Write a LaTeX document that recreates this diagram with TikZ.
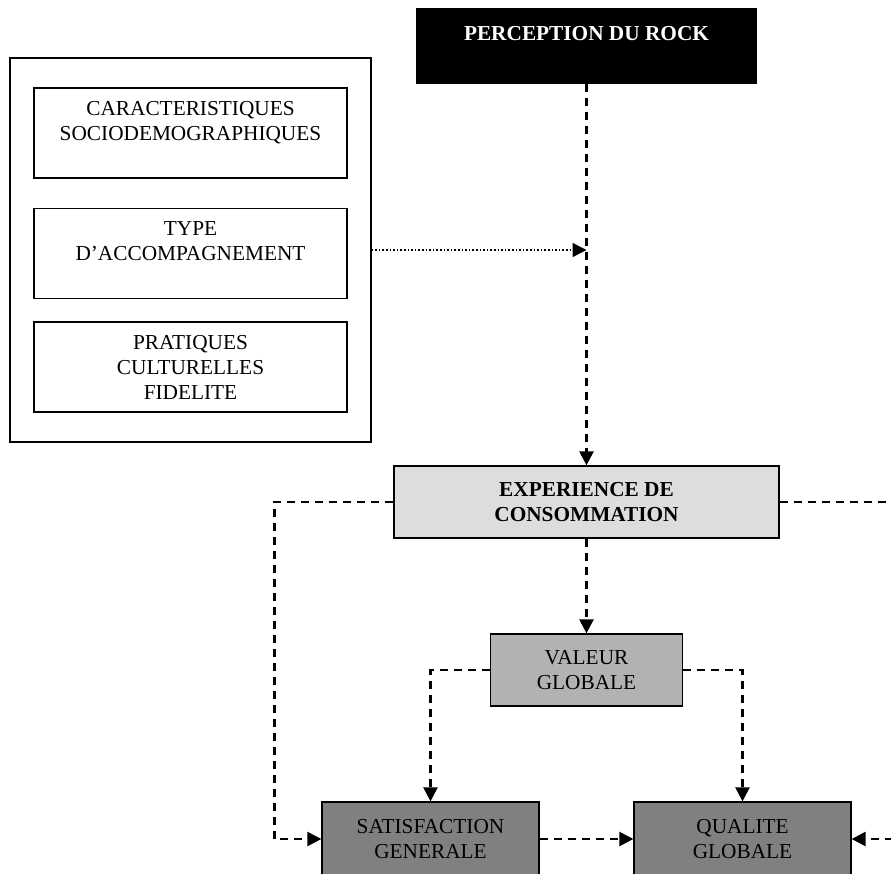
\documentclass[tikz,border=0pt]{standalone}
\usepackage{fontspec}
\setmainfont{Liberation Serif}
\usepackage {tikz}
\usetikzlibrary {positioning}
\usetikzlibrary{calc}
\usetikzlibrary{arrows.meta}
\newcommand{\boxfont}{\fontsize{21.3}{25}\selectfont}
\definecolor{expgray}{gray}{0.867}
\definecolor{valgray}{gray}{0.70}
\definecolor{resgray}{gray}{0.50}
\tikzset{
    box/.style = {rectangle,draw,line width=1.3pt,align=center,inner sep=0pt,font=\boxfont},
    blackbox/.style = {box,fill=black,text=white,font=\boxfont\bfseries,minimum width=339pt,text height=31pt,text depth=43pt},
    factorbox/.style = {box,minimum width=313pt,minimum height=90pt},
    framebox/.style = {box,minimum width=361pt,minimum height=384pt},
    lightbox/.style = {box,fill=expgray,font=\boxfont\bfseries,minimum width=385pt,minimum height=72pt},
    midbox/.style = {box,fill=valgray,minimum width=192pt,minimum height=72pt},
    darkbox/.style = {box,fill=resgray,minimum width=217pt,minimum height=74pt},
    dashline/.style = {line width=2.4pt,dash pattern=on 8pt off 6pt},
    dotline/.style = {line width=1.6pt,dash pattern=on 1.6pt off 2pt},
    tip/.style = {-{Triangle[length=14pt,width=14pt]}}}
\begin{document}
\begin{tikzpicture}[x=1pt,y=-1pt]
\useasboundingbox (0,0) rectangle (891,873);
\clip (0,0) rectangle (891,873);
\path (190.5,250) node[framebox] (frame) {}
        + (0,-117) node[factorbox] (socio) {CARACTERISTIQUES\\SOCIODEMOGRAPHIQUES\\~}
        + (0,3.5) node[factorbox] (accomp) {TYPE\\D’ACCOMPAGNEMENT\\~}
        + (0,117) node[factorbox] (pratiq) {PRATIQUES\\CULTURELLES\\FIDELITE};
\path (586.5,46) node[blackbox] (rock) {PERCEPTION DU ROCK}
        + (0,456) node[lightbox] (exper) {EXPERIENCE DE\\CONSOMMATION}
        + (0,624) node[midbox] (valeur) {VALEUR\\GLOBALE}
        + (-156,793) node[darkbox] (satis) {SATISFACTION\\GENERALE}
        + (156,793) node[darkbox] (qualite) {QUALITE\\GLOBALE};
\coordinate (join) at (rock.south |- frame.east);
\coordinate (exright) at ($(exper.east)+(140,0)$);
\draw[dashline,tip] (rock) -- (exper);
\draw[dotline,tip] (frame.east) -- (join);
\draw[dashline,tip] (exper) -- (valeur);
\draw[dashline,tip] (exper.west) -- ++(-119,0) |- (satis.west);
\draw[dashline,tip] (exper.east) -- (exright) |- (qualite.east);
\draw[dashline,tip] (valeur.west) -| (satis.north);
\draw[dashline,tip] (valeur.east) -| (qualite.north);
\draw[dashline,tip] (satis) -- (qualite);
\end{tikzpicture}
\end{document}
